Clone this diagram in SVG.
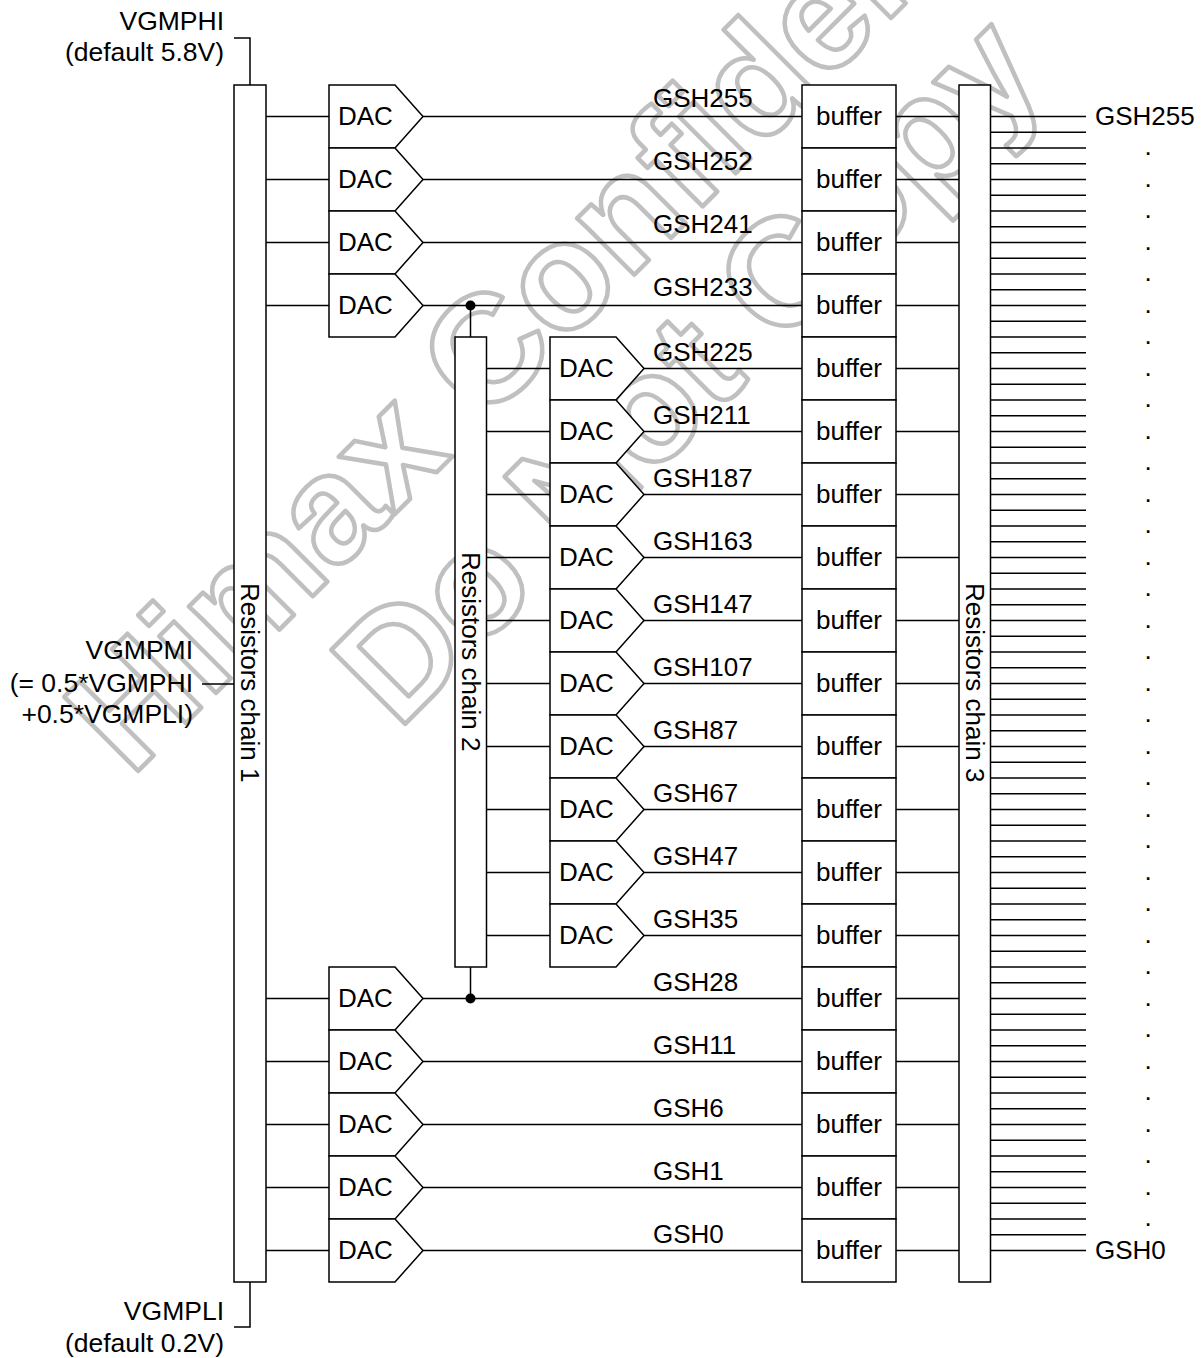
<svg xmlns="http://www.w3.org/2000/svg" width="1203" height="1358" viewBox="0 0 1203 1358">
<style>
text{font-family:"Liberation Sans",Arial,sans-serif;font-size:26px;fill:#000}
.e{text-anchor:end;font-size:26.500px}.m{text-anchor:middle}
.wm{font-size:152px;font-weight:bold;fill:none;stroke:#c0c0c0;stroke-width:4.500;stroke-linejoin:round}
.s{fill:#fff;stroke:#000;stroke-width:1.500}
.c{fill:none;stroke:#000;stroke-width:1.500}
</style>
<rect width="1203" height="1358" fill="#fff"/>
<g id="watermark">
<text class="wm" transform="translate(131,778) rotate(-45)">Himax Confidential</text>
<text class="wm" transform="translate(398,731) rotate(-45)">Do Not Copy</text>
</g>
<g id="connectors">
<path class="c" d="M234 38H250V85M234 1327H250V1282M202 684H234"/>
<path class="c" d="M266 116.5H329M266 179.5H329M266 242.5H329M266 305.5H329M266 998.5H329M266 1061.5H329M266 1124.5H329M266 1187.5H329M266 1250.5H329"/>
<path class="c" d="M486 368.5H550M486 431.5H550M486 494.5H550M486 557.5H550M486 620.5H550M486 683.5H550M486 746.5H550M486 809.5H550M486 872.5H550M486 935.5H550"/>
<path class="c" d="M423 116.5H802M423 179.5H802M423 242.5H802M423 305.5H802M423 998.5H802M423 1061.5H802M423 1124.5H802M423 1187.5H802M423 1250.5H802"/>
<path class="c" d="M644 368.5H802M644 431.5H802M644 494.5H802M644 557.5H802M644 620.5H802M644 683.5H802M644 746.5H802M644 809.5H802M644 872.5H802M644 935.5H802"/>
<path class="c" d="M896 116.5H959M896 179.5H959M896 242.5H959M896 305.5H959M896 368.5H959M896 431.5H959M896 494.5H959M896 557.5H959M896 620.5H959M896 683.5H959M896 746.5H959M896 809.5H959M896 872.5H959M896 935.5H959M896 998.5H959M896 1061.5H959M896 1124.5H959M896 1187.5H959M896 1250.5H959"/>
<path class="c" d="M990 116.5H1086M990 132.25H1086M990 148H1086M990 163.75H1086M990 179.5H1086M990 195.25H1086M990 211H1086M990 226.75H1086M990 242.5H1086M990 258.25H1086M990 274H1086M990 289.75H1086M990 305.5H1086M990 321.25H1086M990 337H1086M990 352.75H1086M990 368.5H1086M990 384.25H1086M990 400H1086M990 415.75H1086M990 431.5H1086M990 447.25H1086M990 463H1086M990 478.75H1086M990 494.5H1086M990 510.25H1086M990 526H1086M990 541.75H1086M990 557.5H1086M990 573.25H1086M990 589H1086M990 604.75H1086M990 620.5H1086M990 636.25H1086M990 652H1086M990 667.75H1086M990 683.5H1086M990 699.25H1086M990 715H1086M990 730.75H1086M990 746.5H1086M990 762.25H1086M990 778H1086M990 793.75H1086M990 809.5H1086M990 825.25H1086M990 841H1086M990 856.75H1086M990 872.5H1086M990 888.25H1086M990 904H1086M990 919.75H1086M990 935.5H1086M990 951.25H1086M990 967H1086M990 982.75H1086M990 998.5H1086M990 1014.25H1086M990 1030H1086M990 1045.75H1086M990 1061.5H1086M990 1077.25H1086M990 1093H1086M990 1108.75H1086M990 1124.5H1086M990 1140.25H1086M990 1156H1086M990 1171.75H1086M990 1187.5H1086M990 1203.25H1086M990 1219H1086M990 1234.75H1086M990 1250.5H1086"/>
<path class="c" d="M470.5 305.5V337M470.5 967V998.5"/>
<circle cx="470.5" cy="305.5" r="5" fill="#000"/>
<circle cx="470.5" cy="998.5" r="5" fill="#000"/>
</g>
<g id="chain1"><rect class="s" x="234" y="85" width="32" height="1197"/><text transform="translate(241,583) rotate(90)">Resistors chain 1</text></g>
<g id="chain2"><rect class="s" x="455" y="337" width="31.500" height="630"/><text transform="translate(462,552) rotate(90)">Resistors chain 2</text></g>
<g id="chain3"><rect class="s" x="959" y="85" width="31.500" height="1197"/><text transform="translate(966,583) rotate(90)">Resistors chain 3</text></g>
<g id="dac-a0"><path class="s" d="M329 85H395L423 116.500L395 148H329Z"/><text x="338" y="124.500">DAC</text></g>
<g id="dac-a1"><path class="s" d="M329 148H395L423 179.500L395 211H329Z"/><text x="338" y="187.500">DAC</text></g>
<g id="dac-a2"><path class="s" d="M329 211H395L423 242.500L395 274H329Z"/><text x="338" y="250.500">DAC</text></g>
<g id="dac-a3"><path class="s" d="M329 274H395L423 305.500L395 337H329Z"/><text x="338" y="313.500">DAC</text></g>
<g id="dac-b4"><path class="s" d="M550 337H616L644 368.500L616 400H550Z"/><text x="559" y="376.500">DAC</text></g>
<g id="dac-b5"><path class="s" d="M550 400H616L644 431.500L616 463H550Z"/><text x="559" y="439.500">DAC</text></g>
<g id="dac-b6"><path class="s" d="M550 463H616L644 494.500L616 526H550Z"/><text x="559" y="502.500">DAC</text></g>
<g id="dac-b7"><path class="s" d="M550 526H616L644 557.500L616 589H550Z"/><text x="559" y="565.500">DAC</text></g>
<g id="dac-b8"><path class="s" d="M550 589H616L644 620.500L616 652H550Z"/><text x="559" y="628.500">DAC</text></g>
<g id="dac-b9"><path class="s" d="M550 652H616L644 683.500L616 715H550Z"/><text x="559" y="691.500">DAC</text></g>
<g id="dac-b10"><path class="s" d="M550 715H616L644 746.500L616 778H550Z"/><text x="559" y="754.500">DAC</text></g>
<g id="dac-b11"><path class="s" d="M550 778H616L644 809.500L616 841H550Z"/><text x="559" y="817.500">DAC</text></g>
<g id="dac-b12"><path class="s" d="M550 841H616L644 872.500L616 904H550Z"/><text x="559" y="880.500">DAC</text></g>
<g id="dac-b13"><path class="s" d="M550 904H616L644 935.500L616 967H550Z"/><text x="559" y="943.500">DAC</text></g>
<g id="dac-a14"><path class="s" d="M329 967H395L423 998.500L395 1030H329Z"/><text x="338" y="1006.500">DAC</text></g>
<g id="dac-a15"><path class="s" d="M329 1030H395L423 1061.500L395 1093H329Z"/><text x="338" y="1069.500">DAC</text></g>
<g id="dac-a16"><path class="s" d="M329 1093H395L423 1124.500L395 1156H329Z"/><text x="338" y="1132.500">DAC</text></g>
<g id="dac-a17"><path class="s" d="M329 1156H395L423 1187.500L395 1219H329Z"/><text x="338" y="1195.500">DAC</text></g>
<g id="dac-a18"><path class="s" d="M329 1219H395L423 1250.500L395 1282H329Z"/><text x="338" y="1258.500">DAC</text></g>
<g id="buf0"><rect class="s" x="802" y="85" width="94" height="63"/><text class="m" x="849" y="124.500">buffer</text></g>
<g id="buf1"><rect class="s" x="802" y="148" width="94" height="63"/><text class="m" x="849" y="187.500">buffer</text></g>
<g id="buf2"><rect class="s" x="802" y="211" width="94" height="63"/><text class="m" x="849" y="250.500">buffer</text></g>
<g id="buf3"><rect class="s" x="802" y="274" width="94" height="63"/><text class="m" x="849" y="313.500">buffer</text></g>
<g id="buf4"><rect class="s" x="802" y="337" width="94" height="63"/><text class="m" x="849" y="376.500">buffer</text></g>
<g id="buf5"><rect class="s" x="802" y="400" width="94" height="63"/><text class="m" x="849" y="439.500">buffer</text></g>
<g id="buf6"><rect class="s" x="802" y="463" width="94" height="63"/><text class="m" x="849" y="502.500">buffer</text></g>
<g id="buf7"><rect class="s" x="802" y="526" width="94" height="63"/><text class="m" x="849" y="565.500">buffer</text></g>
<g id="buf8"><rect class="s" x="802" y="589" width="94" height="63"/><text class="m" x="849" y="628.500">buffer</text></g>
<g id="buf9"><rect class="s" x="802" y="652" width="94" height="63"/><text class="m" x="849" y="691.500">buffer</text></g>
<g id="buf10"><rect class="s" x="802" y="715" width="94" height="63"/><text class="m" x="849" y="754.500">buffer</text></g>
<g id="buf11"><rect class="s" x="802" y="778" width="94" height="63"/><text class="m" x="849" y="817.500">buffer</text></g>
<g id="buf12"><rect class="s" x="802" y="841" width="94" height="63"/><text class="m" x="849" y="880.500">buffer</text></g>
<g id="buf13"><rect class="s" x="802" y="904" width="94" height="63"/><text class="m" x="849" y="943.500">buffer</text></g>
<g id="buf14"><rect class="s" x="802" y="967" width="94" height="63"/><text class="m" x="849" y="1006.500">buffer</text></g>
<g id="buf15"><rect class="s" x="802" y="1030" width="94" height="63"/><text class="m" x="849" y="1069.500">buffer</text></g>
<g id="buf16"><rect class="s" x="802" y="1093" width="94" height="63"/><text class="m" x="849" y="1132.500">buffer</text></g>
<g id="buf17"><rect class="s" x="802" y="1156" width="94" height="63"/><text class="m" x="849" y="1195.500">buffer</text></g>
<g id="buf18"><rect class="s" x="802" y="1219" width="94" height="63"/><text class="m" x="849" y="1258.500">buffer</text></g>
<g id="labels">
<text x="653" y="107">GSH255</text>
<text x="653" y="170">GSH252</text>
<text x="653" y="233">GSH241</text>
<text x="653" y="296">GSH233</text>
<text x="653" y="360.500">GSH225</text>
<text x="653" y="423.500">GSH211</text>
<text x="653" y="486.500">GSH187</text>
<text x="653" y="549.500">GSH163</text>
<text x="653" y="612.500">GSH147</text>
<text x="653" y="675.500">GSH107</text>
<text x="653" y="738.500">GSH87</text>
<text x="653" y="801.500">GSH67</text>
<text x="653" y="864.500">GSH47</text>
<text x="653" y="927.500">GSH35</text>
<text x="653" y="990.500">GSH28</text>
<text x="653" y="1053.500">GSH11</text>
<text x="653" y="1116.500">GSH6</text>
<text x="653" y="1179.500">GSH1</text>
<text x="653" y="1242.500">GSH0</text>
<text x="1095" y="124.500">GSH255</text>
<text x="1095" y="1258.500">GSH0</text>
<text class="e" x="224" y="30">VGMPHI</text>
<text class="e" x="224" y="61">(default 5.8V)</text>
<text class="e" x="193" y="659">VGMPMI</text>
<text class="e" x="193" y="692">(= 0.5*VGMPHI</text>
<text class="e" x="193" y="723">+0.5*VGMPLI)</text>
<text class="e" x="224" y="1320">VGMPLI</text>
<text class="e" x="224" y="1352">(default 0.2V)</text>
</g>
<g id="dots">
<text x="1144.500" y="155">.</text><text x="1144.500" y="186.500">.</text><text x="1144.500" y="218">.</text><text x="1144.500" y="249.500">.</text><text x="1144.500" y="281">.</text><text x="1144.500" y="312.500">.</text><text x="1144.500" y="344">.</text><text x="1144.500" y="375.500">.</text><text x="1144.500" y="407">.</text><text x="1144.500" y="438.500">.</text><text x="1144.500" y="470">.</text><text x="1144.500" y="501.500">.</text><text x="1144.500" y="533">.</text><text x="1144.500" y="564.500">.</text><text x="1144.500" y="596">.</text><text x="1144.500" y="627.500">.</text><text x="1144.500" y="659">.</text><text x="1144.500" y="690.500">.</text><text x="1144.500" y="722">.</text><text x="1144.500" y="753.500">.</text><text x="1144.500" y="785">.</text><text x="1144.500" y="816.500">.</text><text x="1144.500" y="848">.</text><text x="1144.500" y="879.500">.</text><text x="1144.500" y="911">.</text><text x="1144.500" y="942.500">.</text><text x="1144.500" y="974">.</text><text x="1144.500" y="1005.500">.</text><text x="1144.500" y="1037">.</text><text x="1144.500" y="1068.500">.</text><text x="1144.500" y="1100">.</text><text x="1144.500" y="1131.500">.</text><text x="1144.500" y="1163">.</text><text x="1144.500" y="1194.500">.</text><text x="1144.500" y="1226">.</text>
</g>
</svg>
